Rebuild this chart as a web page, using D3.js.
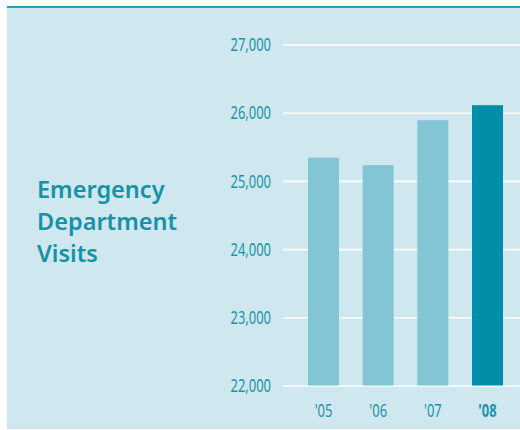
<!DOCTYPE html>
<html><head><meta charset="utf-8">
<script src="https://cdn.jsdelivr.net/npm/d3@7"></script>
<style>
html,body{margin:0;padding:0;background:#fff;}
svg{display:block;}
</style></head>
<body>
<script>
const categories = ["'05", "'06", "'07", "'08"];
const visits = [25340, 25230, 25890, 26110];
const tickValues = [22000, 23000, 24000, 25000, 26000, 27000];
const titleLines = ["Emergency", "Department", "Visits"];

const W = 520, H = 430;
const svg = d3.select("body").append("svg").attr("width", W).attr("height", H);

svg.append("rect").attr("x", 7).attr("y", 6).attr("width", W - 7).attr("height", H - 7).attr("fill", "#cfe7ee");
svg.append("rect").attr("x", 7).attr("y", 6).attr("width", W - 7).attr("height", 2).attr("fill", "#2b9db3");

const y = d3.scaleLinear().domain([22000, 27000]).range([385.5, 44.5]);
const x = d3.scaleBand().domain(categories).range([308, 503]).paddingInner(0.433).paddingOuter(0);

const labelFont = "'Noto Sans',sans-serif";
const labelSize = 18.5;
const condense = 0.7;

// gridlines
const grid = svg.append("g").attr("transform", "translate(283,0)")
  .call(d3.axisLeft(y).tickValues(tickValues).tickSize(-(W - 283)).tickFormat(""));
grid.select(".domain").remove();
grid.selectAll("line").attr("stroke", "#ffffff").attr("stroke-width", 1.6);

// bars
svg.selectAll("rect.bar").data(categories).enter().append("rect")
  .attr("class", "bar")
  .attr("x", d => x(d))
  .attr("width", x.bandwidth())
  .attr("y", (d, i) => y(visits[i]))
  .attr("height", (d, i) => y(22000) - y(visits[i]))
  .attr("fill", (d, i) => i === categories.length - 1 ? "#008ea8" : "#82c5d4");

function condenseText(sel) {
  sel.each(function() {
    const w = this.getComputedTextLength();
    d3.select(this).attr("textLength", w * condense).attr("lengthAdjust", "spacingAndGlyphs");
  });
}

// y tick labels
const yAxis = svg.append("g").attr("transform", "translate(283,0)")
  .call(d3.axisLeft(y).tickValues(tickValues).tickSize(0).tickPadding(12).tickFormat(d3.format(",")));
yAxis.select(".domain").remove();
yAxis.selectAll("text")
  .attr("fill", "#1a93ab")
  .style("font-family", labelFont)
  .style("font-size", labelSize + "px")
  .attr("dy", "0.33em")
  .call(condenseText);

// x labels
const xAxis = svg.append("g").attr("transform", "translate(0,385.5)")
  .call(d3.axisBottom(x).tickSize(0).tickPadding(18.7));
xAxis.select(".domain").remove();
xAxis.selectAll("text")
  .attr("fill", "#1a93ab")
  .style("font-family", labelFont)
  .style("font-size", labelSize + "px")
  .style("font-weight", (d, i) => i === categories.length - 1 ? "bold" : "normal")
  .call(condenseText);

// title
svg.append("text")
  .attr("x", 37).attr("y", 197.5)
  .attr("fill", "#1591a8")
  .style("font-family", "'Noto Sans',sans-serif")
  .style("font-weight", "600")
  .style("font-size", "23.5px")
  .selectAll("tspan").data(titleLines).enter().append("tspan")
  .attr("x", 37).attr("dy", (d, i) => i === 0 ? 0 : 32.2)
  .text(d => d);
</script>
</body></html>
